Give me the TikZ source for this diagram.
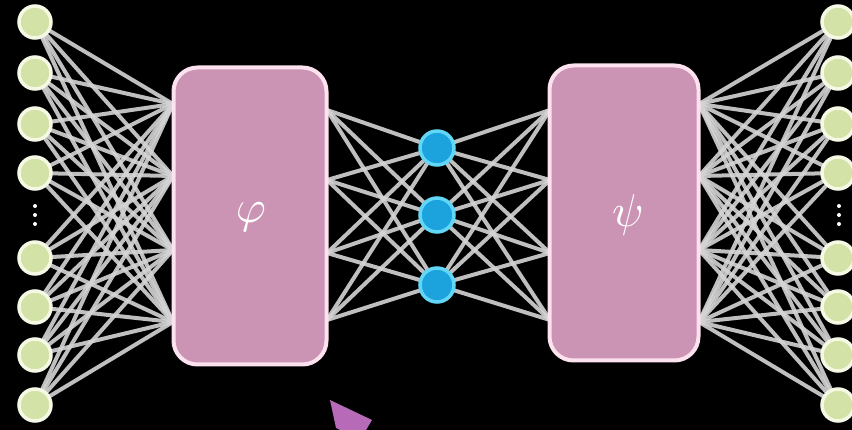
\documentclass[tikz,border=0pt]{standalone}
\usepackage{graphicx}
\usepackage{tikz}
\begin{document}
\begin{tikzpicture}[x=1pt,y=-1pt,
  inp/.style={circle,minimum size=32pt,inner sep=0pt,fill=incol,draw=inborder,line width=3.5pt},
  mid/.style={circle,minimum size=34pt,inner sep=0pt,fill=midcol,draw=midborder,line width=3.5pt},
  blk/.style={rounded corners=24pt,fill=boxcol,draw=boxborder,line width=4pt},
  wire/.style={draw=wirecol,line width=4pt,opacity=0.9},
  lbl/.style={text=white,inner sep=0pt},
  dotmark/.style={circle,fill=white,inner sep=0pt,minimum size=4pt}]
\definecolor{incol}{HTML}{D3E2A6}
\definecolor{inborder}{HTML}{F4F8E4}
\definecolor{midcol}{HTML}{1CA3DE}
\definecolor{midborder}{HTML}{62D6F6}
\definecolor{boxcol}{HTML}{CC94B4}
\definecolor{boxborder}{HTML}{FCE1EE}
\definecolor{wirecol}{HTML}{D4D4D4}
\definecolor{cursorcol}{HTML}{B66AB8}
\fill[black] (0,0) rectangle (852,430);
\useasboundingbox (0,0) rectangle (852,430);
% anchor points on box edges
\foreach \i/\yy in {1/104,2/176,3/250,4/322}{
  \coordinate (al\i) at (173,\yy);
}
\foreach \i/\yy in {1/110,2/180,3/253,4/320}{
  \coordinate (ar\i) at (327,\yy);
  \coordinate (bl\i) at (550,\yy);
}
\foreach \i/\yy in {1/104,2/176,3/250,4/322}{
  \coordinate (br\i) at (699,\yy);
}
% input and output node positions
\foreach \i/\yy in {1/22,2/73,3/124,4/173,5/258,6/307,7/355,8/405}{
  \coordinate (pin\i) at (35,\yy);
  \coordinate (pout\i) at (838,\yy);
}
\foreach \i/\yy in {1/148,2/215,3/285}{
  \coordinate (pm\i) at (437,\yy);
}
% wires
\foreach \i in {1,...,8}{
  \foreach \j in {1,...,4}{
    \draw[wire] (pin\i) -- (al\j);
    \draw[wire] (br\j) -- (pout\i);
  }
}
\foreach \i in {1,2,3}{
  \foreach \j in {1,...,4}{
    \draw[wire] (ar\j) -- (pm\i);
    \draw[wire] (pm\i) -- (bl\j);
  }
}
% boxes
\node[blk,minimum width=153pt,minimum height=297pt] (phi) at (250,216) {};
\node[blk,minimum width=149pt,minimum height=295pt] (psi) at (624,213) {};
\node[lbl] (phil) at (251,217) {\scalebox{4.6}{$\varphi$}};
\node[lbl] (psil) at (628,215) {\scalebox{4.6}{$\psi$}};
% nodes
\foreach \i in {1,...,8}{
  \node[inp] (in\i) at (pin\i) {};
  \node[inp] (out\i) at (pout\i) {};
}
\foreach \i in {1,2,3}{
  \node[mid] (m\i) at (pm\i) {};
}
% vertical dots
\foreach \k/\yy in {1/206,2/215,3/224}{
  \node[dotmark] (dl\k) at (35,\yy) {};
  \node[dotmark] (dr\k) at (839,\yy) {};
}
% cursor
\fill[cursorcol] (330,400) -- (372,420) -- (366,430) -- (340,430) -- (336,428) -- cycle;
\end{tikzpicture}
\end{document}
